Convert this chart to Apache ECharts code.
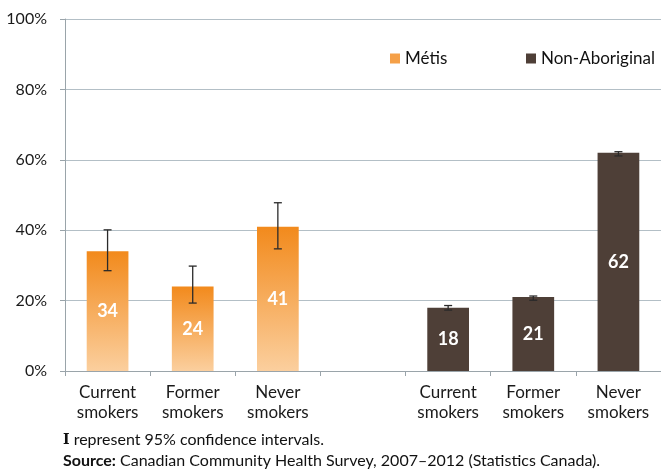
<!DOCTYPE html>
<html><head><meta charset="utf-8">
<script src="https://cdn.jsdelivr.net/npm/echarts@6/dist/echarts.min.js"></script>
<style>html,body{margin:0;padding:0;background:#fff}#c{width:661px;height:474px}</style>
</head><body><div id="c"></div>
<script>
const categories = ['Current\nsmokers','Former\nsmokers','Never\nsmokers','','Current\nsmokers','Former\nsmokers','Never\nsmokers'];
const metisValues = [34, 24, 41, '-', '-', '-', '-'];
const nonAbValues = ['-', '-', '-', '-', 18, 21, 62];
const metisLow = [28.5, 19.3, 34.7];
const metisHigh = [40.1, 29.8, 47.8];
const nonAbLow = [17.3, 20.1, 61.1];
const nonAbHigh = [18.6, 21.3, 62.3];
const metisIdx = [0, 1, 2];
const nonAbIdx = [4, 5, 6];
const yTicks = [0, 20, 40, 60, 80, 100];

const FONT = 'Lato, "Open Sans", sans-serif';
const errData = [];
metisIdx.forEach((c, i) => errData.push([c, metisLow[i], metisHigh[i]]));
nonAbIdx.forEach((c, i) => errData.push([c, nonAbLow[i], nonAbHigh[i]]));

const chart = echarts.init(document.getElementById('c'));
chart.setOption({
  animation: false,
  textStyle: {fontFamily: FONT},
  grid: {left: 65, right: -8, top: 19, bottom: 103, containLabel: false},
  legend: [
    {data: ['Métis'], left: 385, top: 45, itemWidth: 10, itemHeight: 10, icon: 'rect',
     textStyle: {fontSize: 17, color: '#111', fontFamily: FONT}, itemStyle: {color: '#f5a048'}},
    {data: ['Non-Aboriginal'], left: 521, top: 45, itemWidth: 10, itemHeight: 10, icon: 'rect',
     textStyle: {fontSize: 17, color: '#111', fontFamily: FONT}, itemStyle: {color: '#4e3f37'}}
  ],
  xAxis: {
    type: 'category', data: categories,
    axisLine: {lineStyle: {color: '#9aa4aa', width: 1}},
    axisTick: {show: true, length: 5, lineStyle: {color: '#9aa4aa'}},
    axisLabel: {fontSize: 17, color: '#1a1a1a', lineHeight: 20, margin: 12, fontFamily: FONT, interval: 0}
  },
  yAxis: {
    type: 'value', min: 0, max: 100, interval: 20,
    axisLine: {show: true, lineStyle: {color: '#9aa4aa'}},
    axisTick: {show: true, length: 5, lineStyle: {color: '#9aa4aa'}},
    axisLabel: {fontSize: 16, color: '#1a1a1a', margin: 18, fontFamily: FONT,
      formatter: v => yTicks.includes(v) ? v + '%' : ''},
    splitLine: {lineStyle: {color: '#b3bfc6', width: 1}}
  },
  series: [
    {name: 'Métis', type: 'bar', data: metisValues, barWidth: '49%', barGap: '-100%',
     itemStyle: {color: new echarts.graphic.LinearGradient(0, 0, 0, 1, [
       {offset: 0, color: '#f28a1c'}, {offset: 1, color: '#fbcf9e'}])},
     label: {show: true, position: 'inside', color: '#fff', fontSize: 18, fontWeight: 'bold', fontFamily: FONT}},
    {name: 'Non-Aboriginal', type: 'bar', data: nonAbValues, barWidth: '49%', barGap: '-100%',
     itemStyle: {color: '#4e3f37'},
     label: {show: true, position: 'inside', color: '#fff', fontSize: 18, fontWeight: 'bold', fontFamily: FONT}},
    {type: 'custom', data: errData, z: 10,
     renderItem: function (params, api) {
       const x = api.value(0);
       const lo = api.coord([x, api.value(1)]);
       const hi = api.coord([x, api.value(2)]);
       const w = 4;
       const st = {stroke: '#2a2a2a', lineWidth: 1.3};
       return {type: 'group', children: [
         {type: 'line', shape: {x1: lo[0], y1: lo[1], x2: hi[0], y2: hi[1]}, style: st},
         {type: 'line', shape: {x1: lo[0] - w, y1: lo[1], x2: lo[0] + w, y2: lo[1]}, style: st},
         {type: 'line', shape: {x1: hi[0] - w, y1: hi[1], x2: hi[0] + w, y2: hi[1]}, style: st}
       ]};
     }}
  ],
  graphic: [
    {type: 'text', left: 63, top: 432, style: {
      text: '{i|I} represent 95% confidence intervals.',
      rich: {i: {fontFamily: '"DejaVu Serif", serif', fontWeight: 'bold', fontSize: 14, fill: '#111'}},
      fontSize: 16, fill: '#111', fontFamily: FONT}},
    {type: 'text', left: 63, top: 453, style: {
      text: '{b|Source:} Canadian Community Health Survey, 2007–2012 (Statistics Canada).',
      rich: {b: {fontWeight: 'bold', fontSize: 16, fill: '#111', fontFamily: FONT}},
      fontSize: 16, fill: '#111', fontFamily: FONT}}
  ]
});
</script></body></html>
